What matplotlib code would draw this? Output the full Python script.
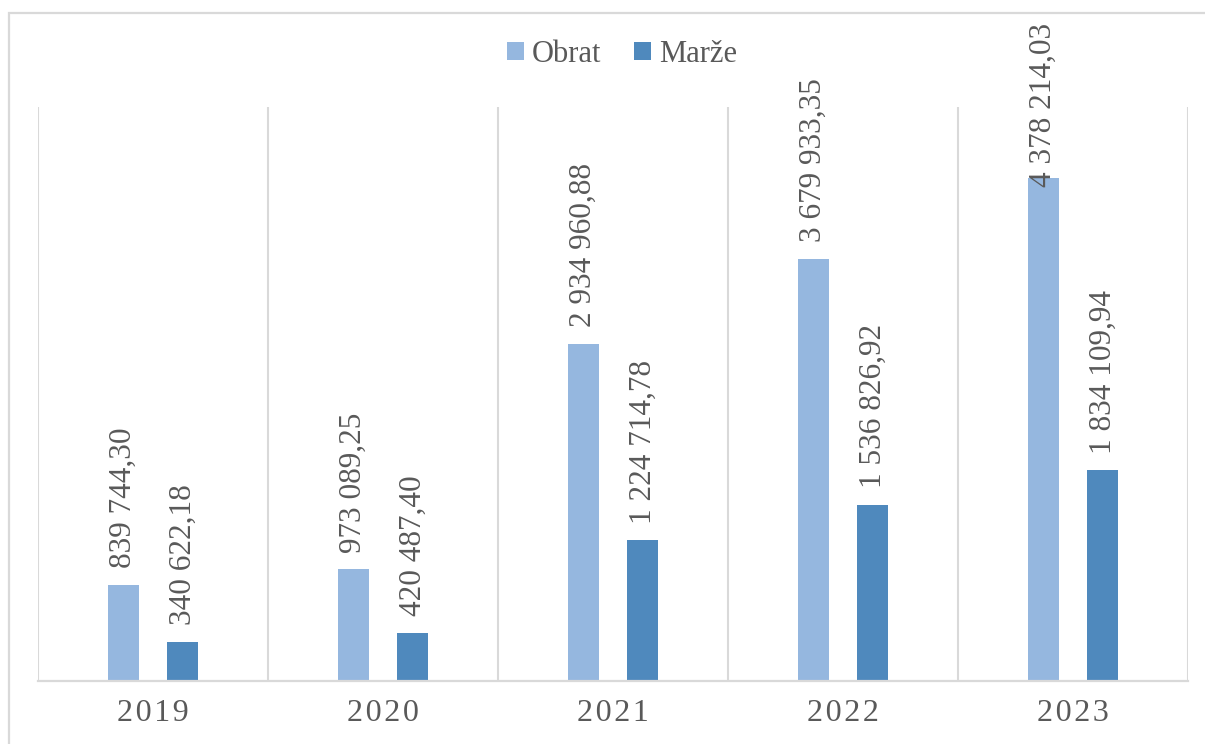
import matplotlib.pyplot as plt
import numpy as np
from matplotlib.patches import Rectangle

years = ["2019", "2020", "2021", "2022", "2023"]
obrat = [839744.30, 973089.25, 2934960.88, 3679933.35, 4378214.03]
marze = [340622.18, 420487.40, 1224714.78, 1536826.92, 1834109.94]

c_obrat = "#95B7DF"
c_marze = "#4F89BD"
txt = "#595959"
grid = "#D9D9D9"
ymax = 5000000

def fmt(v):
	# 1234567.89 -> "1 234 567,89"
	s = "{:,.2f}".format(v)
	return s.replace(",", " ").replace(".", ",")

plt.rcParams['font.family'] = ['Liberation Serif', 'DejaVu Serif']

fig = plt.figure(figsize=(12.05, 7.44), dpi=100)
ax = fig.add_axes([0.0315, 0.0847, 0.9544, 0.7715])

# outer frame of the chart
fig.patches.append(Rectangle((0.0075, -0.05), 1.1, 0.9825 + 0.05, transform=fig.transFigure,
							 fill=False, edgecolor=grid, linewidth=1.6, zorder=0))

x = np.arange(len(years))
w = 0.135
off = 0.13
b1 = ax.bar(x - off, obrat, w, color=c_obrat, zorder=2)
b2 = ax.bar(x + off, marze, w, color=c_marze, zorder=2)

for bars, vals in ((b1, obrat), (b2, marze)):
	for b, v in zip(bars, vals):
		xc = b.get_x() + b.get_width() / 2
		if v > 0.85 * ymax:
			# too tall to fit above the bar: pin it to the top of the chart
			ax.annotate(fmt(v), (xc, 0.969), xycoords=("data", "figure fraction"),
						rotation=90, ha="center", va="top", fontsize=22.5, color=txt,
						annotation_clip=False)
		else:
			ax.annotate(fmt(v), (xc, v), xytext=(0, 12),
						textcoords="offset points", rotation=90, ha="center", va="bottom",
						fontsize=22.5, color=txt, annotation_clip=False)

for g in np.arange(-0.5, len(years), 1.0):
	ax.axvline(g, color=grid, linewidth=1.5, zorder=1)

ax.set_xlim(-0.5, len(years) - 0.5)
ax.set_ylim(0, ymax)
ax.set_yticks([])
ax.set_xticks(x)
# letter-spaced year labels (hair spaces)
ax.set_xticklabels(["\u200a".join(y) for y in years], fontsize=23, color=txt)
ax.tick_params(axis="x", length=0, pad=13)
for s in ("left", "right", "top"):
	ax.spines[s].set_visible(False)
ax.spines["bottom"].set_color(grid)
ax.spines["bottom"].set_linewidth(1.6)

leg = fig.legend([b1, b2], ["Obrat", "Marže"], loc="center", bbox_to_anchor=(0.516, 0.927),
				 ncol=2, frameon=False, fontsize=22, handlelength=0.55, handleheight=0.55,
				 handletextpad=0.25, columnspacing=1.1)
for t in leg.get_texts():
	t.set_color(txt)

fig.savefig("out.png", dpi=100)
